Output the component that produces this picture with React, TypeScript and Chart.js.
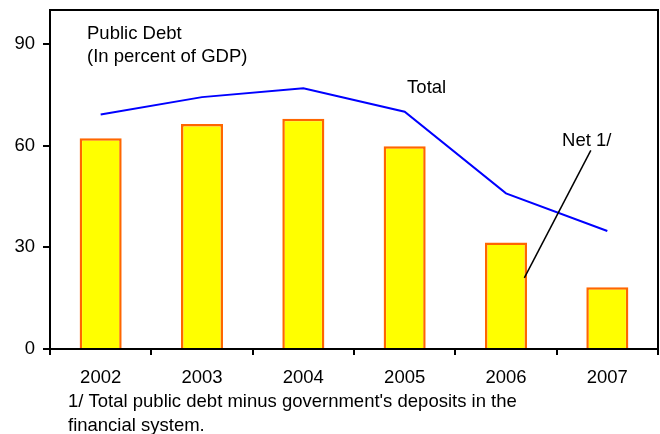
import React, { useEffect, useRef } from "react";
import { Chart, registerables } from "chart.js";

Chart.register(...registerables);

const categories = ["2002", "2003", "2004", "2005", "2006", "2007"];
const netDebt = [62.2, 66.4, 67.9, 59.8, 31.4, 18.2];
const totalDebt = [69.2, 74.3, 76.9, 70.0, 45.9, 34.8];
const yTicks = [0, 30, 60, 90];
const titleLines = ["Public Debt", "(In percent of GDP)"];
const footnoteLines = [
  "1/ Total public debt minus government's deposits in the",
  "financial system.",
];
const totalLabel = { text: "Total", x: 3.024, y: 75.4 };
const netLabel = { text: "Net 1/", x: 4.553, y: 59.8 };
const netLeader = { x1: 4.837, y1: 58.6, x2: 4.181, y2: 21.0 };

const FAMILY = "'Liberation Sans', Arial, sans-serif";
const FONT = "18.5px " + FAMILY;

const overlay = {
  id: "overlay",
  afterDraw(chart: any) {
    const { ctx, chartArea, scales } = chart;
    const xs = scales.x;
    const ys = scales.y;
    ctx.save();
    ctx.strokeStyle = "#000";
    ctx.lineWidth = 2;
    ctx.beginPath();
    ctx.moveTo(chartArea.left - 1, chartArea.top);
    ctx.lineTo(chartArea.right, chartArea.top);
    ctx.lineTo(chartArea.right, chartArea.bottom + 1);
    ctx.stroke();

    ctx.font = FONT;
    ctx.fillStyle = "#000";
    ctx.textAlign = "left";
    ctx.textBaseline = "alphabetic";
    ctx.fillText(titleLines[0], chartArea.left + 37, chartArea.top + 28.5);
    ctx.fillText(titleLines[1], chartArea.left + 37, chartArea.top + 52);
    ctx.fillText(totalLabel.text, xs.getPixelForValue(totalLabel.x), ys.getPixelForValue(totalLabel.y));
    ctx.fillText(netLabel.text, xs.getPixelForValue(netLabel.x), ys.getPixelForValue(netLabel.y));
    ctx.lineWidth = 1.5;
    ctx.beginPath();
    ctx.moveTo(xs.getPixelForValue(netLeader.x1), ys.getPixelForValue(netLeader.y1));
    ctx.lineTo(xs.getPixelForValue(netLeader.x2), ys.getPixelForValue(netLeader.y2));
    ctx.stroke();
    ctx.fillText(footnoteLines[0], 68, chartArea.bottom + 58);
    ctx.fillText(footnoteLines[1], 68, chartArea.bottom + 81.5);
    ctx.restore();
  },
};

export default function App() {
  const ref = useRef<HTMLCanvasElement>(null);
  useEffect(() => {
    if (!ref.current) return;
    const chart = new Chart(ref.current, {
      type: "bar",
      data: {
        labels: categories,
        datasets: [
          {
            type: "line",
            label: "Total",
            data: totalDebt,
            borderColor: "#0000FF",
            borderWidth: 2,
            pointRadius: 0,
            fill: false,
            tension: 0,
            order: 0,
          } as any,
          {
            type: "bar",
            label: "Net 1/",
            data: netDebt,
            backgroundColor: "#FFFF00",
            borderColor: "#FF6600",
            borderWidth: 2.5,
            barPercentage: 1,
            categoryPercentage: 0.415,
            order: 1,
          },
        ],
      },
      options: {
        responsive: false,
        animation: false,
        devicePixelRatio: 1,
        layout: { padding: { top: 10, right: 2, left: 0, bottom: 0 } },
        plugins: { legend: { display: false }, tooltip: { enabled: false } },
        scales: {
          x: {
            offset: true,
            grid: {
              offset: true,
              drawOnChartArea: false,
              drawTicks: true,
              tickLength: 6,
              color: "#000",
              lineWidth: 2,
            },
            border: { display: true, color: "#000", width: 2 },
            ticks: {
              color: "#000",
              font: { family: FAMILY, size: 18.5 },
              padding: 12,
              maxRotation: 0,
            },
            afterFit: (s: any) => {
              s.height = 85;
              s.paddingLeft = 0;
              s.paddingRight = 0;
            },
          },
          y: {
            min: 0,
            max: 100,
            afterBuildTicks: (s: any) => {
              s.ticks = yTicks.map((v) => ({ value: v }));
            },
            grid: {
              drawOnChartArea: false,
              drawTicks: true,
              tickLength: 7,
              color: "#000",
              lineWidth: 2,
            },
            border: { display: true, color: "#000", width: 2 },
            ticks: {
              color: "#000",
              font: { family: FAMILY, size: 18.5 },
              padding: 8,
            },
            afterFit: (s: any) => {
              s.width = 50;
              s.paddingTop = 0;
              s.paddingBottom = 0;
            },
          },
        },
      },
      plugins: [overlay],
    });
    return () => chart.destroy();
  }, []);
  return (
    <div style={{ position: "fixed", left: 0, top: 0, width: 660, height: 434, background: "#fff" }}>
      <canvas ref={ref} width={660} height={434} />
    </div>
  );
}
